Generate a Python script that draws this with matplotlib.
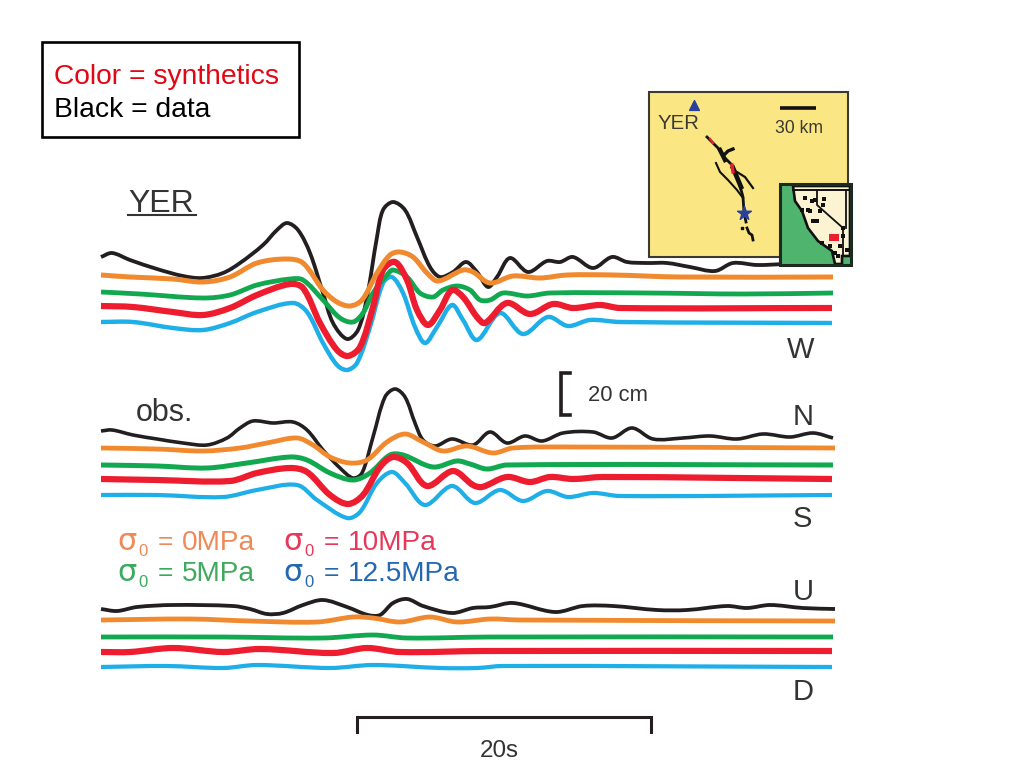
import numpy as np
import matplotlib
matplotlib.use('Agg')
import matplotlib.pyplot as plt
from matplotlib.path import Path
from matplotlib.patches import PathPatch, Rectangle, Polygon

plt.rcParams['font.family'] = ['Liberation Sans', 'DejaVu Sans']

# all traces, in image pixels (x right, y down)
# W component
w_black_x = [101,112,130,157,183,202,223,240,263,277,287,298,310,323,333,347,358,367,377,383,393,405,417,430,440,453,466,477,488,497,510,528,547,560,573,593,612,627,647,667,690,715,733,757,785]
w_black_y = [257,253,260,269,276,278,273,263,245,230,223,230,253,293,323,339,330,297,237,210,202,210,237,267,277,272,262,272,287,277,258,272,261,262,257,268,257,262,263,263,267,271,263,265,264]
w_orange_x = [101,130,173,203,230,257,287,303,323,337,350,362,377,390,400,413,427,438,463,473,490,513,540,567,613,680,833]
w_orange_y = [275,277,279,282,277,263,259,263,290,302,306,300,273,255,252,257,273,281,270,272,283,276,278,275,275,277,277]
w_green_x = [101,140,203,230,257,290,303,323,340,353,363,373,387,393,407,420,433,443,457,470,480,490,503,527,550,647,743,833]
w_green_y = [292,294,298,295,285,279,280,300,318,322,313,293,275,270,277,293,297,290,286,290,300,300,293,296,293,293,294,293]
w_red_x = [101,133,173,203,230,257,290,303,320,337,348,360,373,383,395,407,417,428,440,452,463,477,485,507,530,553,573,600,620,832]
w_red_y = [306,307,312,315,308,295,284,288,323,350,356,347,307,270,262,280,310,325,310,290,297,317,323,303,314,304,308,305,308,308]
w_blue_x = [101,133,173,203,230,257,293,307,323,337,347,357,370,383,392,403,415,425,437,452,463,477,500,523,548,568,590,620,832]
w_blue_y = [322,322,328,330,323,312,303,312,343,365,370,363,327,283,277,293,327,343,327,305,320,340,313,334,317,326,320,322,323]

# N component
n_black_x = [101,112,133,157,183,207,227,240,253,273,293,307,323,340,353,362,373,385,395,405,415,423,435,452,473,490,507,525,542,563,593,612,632,653,683,710,737,763,790,813,833]
n_black_y = [431,430,435,439,443,445,438,428,421,423,422,430,450,468,478,473,437,397,389,397,423,440,446,439,445,432,443,436,441,433,432,438,428,439,438,436,439,434,437,433,438]
n_orange_x = [101,157,203,240,267,297,313,330,350,367,387,405,423,443,467,493,513,570,835]
n_orange_y = [448,449,451,448,443,438,445,457,463,460,442,434,442,451,446,453,448,447,448]
n_green_x = [101,157,207,247,290,307,330,353,370,390,403,433,457,470,487,507,833]
n_green_y = [465,466,468,463,457,460,473,480,473,455,455,467,461,464,469,465,465]
n_red_x = [101,157,230,257,290,307,330,348,363,380,393,407,427,453,473,482,507,530,550,573,603,832]
n_red_y = [479,480,481,473,468,472,495,504,495,467,457,463,486,471,485,487,477,482,477,479,477,479]
n_blue_x = [101,157,223,257,297,317,347,360,377,392,405,425,452,475,500,523,547,568,593,620,832]
n_blue_y = [495,495,497,490,485,500,518,512,483,472,483,505,486,503,490,501,491,497,493,496,495]

# U component
u_black_x = [101,117,137,173,233,250,267,283,303,323,347,368,380,393,407,423,452,473,490,513,555,583,613,657,687,727,747,770,803,835]
u_black_y = [609,611,607,605,606,609,614,613,605,600,607,615,615,603,599,606,613,608,607,603,612,606,606,610,610,606,608,605,608,609]
u_orange_x = [101,190,250,317,353,373,400,430,457,490,520,835]
u_orange_y = [620,619,621,622,617,618,622,617,622,619,620,621]
u_green_x = [101,223,323,373,407,490,833]
u_green_y = [637,637,638,635,638,637,637]
u_red_x = [101,130,173,223,260,333,367,400,483,832]
u_red_y = [652,652,648,652,649,653,648,652,651,651]
u_blue_x = [101,167,223,257,330,373,440,477,503,832]
u_blue_y = [667,666,668,665,668,665,668,668,666,667]

# inset map, fault traces
fault_main_x = [707,713,720,725,732,735,739,743,744,746]
fault_main_y = [137,143,150,158,165,173,182,197,212,222]
fault_thick_x = [720,725]
fault_thick_y = [150,160]
fault_thick2_x = [733,736,741]
fault_thick2_y = [168,175,187]
fault_west_x = [716,720,728,737,743]
fault_west_y = [163,172,180,190,198]
fault_east_x = [737,745,753]
fault_east_y = [172,177,188]
fault_north_x = [725,728,733]
fault_north_y = [154,151,149]
fault_south_x = [747,749,752,753]
fault_south_y = [228,233,235,240]
land_x = [793,850,850,842,842,835,832,818,808,802,795]
land_y = [186,186,256,256,264,264,251,241,228,211,201]
town_x = [805,812,815,824,823,820,810,808,817,813,802,843,843,847,840,822,830,838,835]
town_y = [198,201,200,199,205,211,211,210,221,221,210,228,236,250,246,243,246,256,253]

BLACK = '#231f20'
ORANGE = '#f18a2e'
GREEN = '#12a84f'
RED = '#ed1c2e'
BLUE = '#1eaee8'
TEXT = '#333333'


def trace(ax, xs, ys, color, width):
    # smooth curve through the read points, handles scaled to the chord length
    p = np.column_stack([xs, ys]).astype(float)
    d = np.hypot(*np.diff(p, axis=0).T)
    tan = np.zeros_like(p)
    tan[0] = (p[1] - p[0]) / d[0]
    tan[-1] = (p[-1] - p[-2]) / d[-1]
    tan[1:-1] = (p[2:] - p[:-2]) / (d[:-1] + d[1:])[:, None]
    verts = [p[0]]
    codes = [Path.MOVETO]
    for i in range(len(p) - 1):
        verts += [p[i] + tan[i] * d[i] / 3, p[i + 1] - tan[i + 1] * d[i] / 3, p[i + 1]]
        codes += [Path.CURVE4] * 3
    ax.add_patch(PathPatch(Path(verts, codes), fc='none', ec=color, lw=width * 0.72,
                           capstyle='butt', joinstyle='round'))


fig = plt.figure(figsize=(10.24, 7.68), dpi=100)
ax = fig.add_axes([0, 0, 1, 1])
ax.set_xlim(0, 1024)
ax.set_ylim(768, 0)
ax.axis('off')

trace(ax, w_black_x, w_black_y, BLACK, 3.8)
trace(ax, w_blue_x, w_blue_y, BLUE, 4.4)
trace(ax, w_green_x, w_green_y, GREEN, 4.8)
trace(ax, w_red_x, w_red_y, RED, 6.2)
trace(ax, w_orange_x, w_orange_y, ORANGE, 5)

trace(ax, n_black_x, n_black_y, BLACK, 3.6)
trace(ax, n_blue_x, n_blue_y, BLUE, 4.2)
trace(ax, n_green_x, n_green_y, GREEN, 5)
trace(ax, n_red_x, n_red_y, RED, 6.2)
trace(ax, n_orange_x, n_orange_y, ORANGE, 4.8)

trace(ax, u_black_x, u_black_y, BLACK, 3.8)
trace(ax, u_blue_x, u_blue_y, BLUE, 4.2)
trace(ax, u_green_x, u_green_y, GREEN, 4.8)
trace(ax, u_red_x, u_red_y, RED, 6.2)
trace(ax, u_orange_x, u_orange_y, ORANGE, 4.8)

# key box
ax.add_patch(Rectangle((42, 42), 257, 95, fc='white', ec='black', lw=1.9))
ax.text(54, 84, 'Color = synthetics', color='#e30613', fontsize=20.3)
ax.text(54, 117, 'Black = data', color='black', fontsize=20.3)

# labels
ax.text(128, 212, 'YER', color=TEXT, fontsize=23)
ax.plot([128, 196], [214.5, 214.5], color=TEXT, lw=1.5)
ax.text(136, 421, 'obs.', color=TEXT, fontsize=22)
for lab, lx, ly in [('W', 787, 358), ('N', 793, 425), ('S', 793, 527), ('U', 793, 600), ('D', 793, 700)]:
    ax.text(lx, ly, lab, color=TEXT, fontsize=21)

# sigma legend
legend = [(117, 550, '0MPa', '#ee8a5a'), (117, 581, '5MPa', '#3faa5f'),
          (283, 550, '10MPa', '#e8385a'), (283, 581, '12.5MPa', '#2468b0')]
for lx, ly, lab, col in legend:
    ax.text(lx, ly, '\u03c3', color=col, fontsize=22, family=['DejaVu Sans'])
    ax.text(lx + 21, ly + 6, '0', color=col, fontsize=12)
    ax.text(lx + 41, ly - 1, '=', color=col, fontsize=19)
    ax.text(lx + 65, ly, lab, color=col, fontsize=20.2)

# amplitude and time scale
ax.plot([570, 561, 561, 570], [373, 373, 415, 415], color=BLACK, lw=2.6, solid_joinstyle='miter')
ax.text(588, 401, '20 cm', color=TEXT, fontsize=15.8)
ax.plot([357, 357, 651, 651], [732, 717, 717, 732], color=BLACK, lw=2.2, solid_joinstyle='miter')
ax.text(480, 757, '20s', color=TEXT, fontsize=17.4)

# location map
ax.add_patch(Rectangle((649, 92), 199, 165, fc='#fae784', ec='#3a3a32', lw=1.5, zorder=5))
ax.scatter([694], [105], marker='^', s=50, color='#2b3f9e', zorder=6)
ax.text(658, 129, 'YER', color='#3a3a32', fontsize=14.7, zorder=6)
ax.plot([780, 816], [108, 108], color='#111111', lw=2.6, zorder=6, solid_capstyle='butt')
ax.text(775, 133, '30 km', color='#3a3a32', fontsize=12.7, zorder=6)
for fx, fy, w in [(fault_main_x, fault_main_y, 2), (fault_thick_x, fault_thick_y, 3.2),
                  (fault_thick2_x, fault_thick2_y, 3.4), (fault_west_x, fault_west_y, 1.5),
                  (fault_east_x, fault_east_y, 1.6), (fault_north_x, fault_north_y, 2.4),
                  (fault_south_x, fault_south_y, 2)]:
    ax.plot(fx, fy, color='#111111', lw=w, zorder=6)
ax.plot([710, 713], [139, 143], color=RED, lw=1.6, zorder=7)
ax.plot([732, 733], [165, 172], color=RED, lw=2.4, zorder=7)
ax.scatter([744], [213], marker='*', s=110, color='#2b3f9e', zorder=7)
ax.scatter([742], [228], marker='s', s=2, color='#111111', zorder=6)

# small California map
ax.add_patch(Rectangle((780, 184), 71, 81, fc='#4fb56e', ec='none', zorder=8))
ax.add_patch(Polygon(np.column_stack([land_x, land_y]), fc='#fbf3d2', ec='#111111', lw=1.9, zorder=9))
ax.plot([793, 850], [190, 190], color='#111111', lw=1.4, zorder=10)
ax.plot([817, 817, 843, 843], [190, 205, 228, 256], color='#111111', lw=1.3, zorder=10)
ax.plot([846, 846], [190, 228], color='#111111', lw=1.3, zorder=10)
ax.scatter(town_x, town_y, marker='s', s=12, color='#111111', lw=0, zorder=10)
ax.add_patch(Rectangle((829, 234), 10, 7, fc=RED, ec='none', zorder=11))
ax.add_patch(Rectangle((780, 184), 71, 81, fc='none', ec='#1d2a22', lw=2.2, zorder=12))

fig.savefig('out.png', dpi=100)
